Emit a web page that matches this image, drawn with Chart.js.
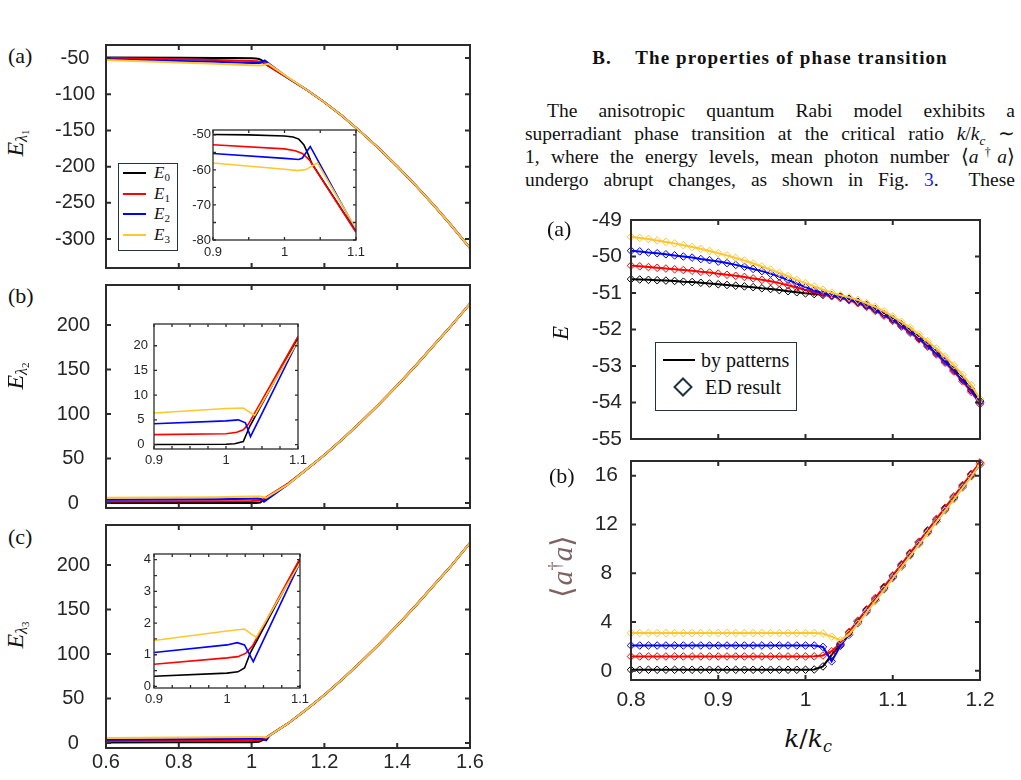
<!DOCTYPE html>
<html><head><meta charset="utf-8">
<script src="https://cdn.jsdelivr.net/npm/chart.js@4.4.1/dist/chart.umd.min.js"></script>
<style>
body{margin:0;background:#fff}
#wrap{position:relative;width:1021px;height:780px;overflow:hidden;background:#fff}
canvas{position:absolute}
.t{position:absolute;white-space:nowrap;font-family:'Liberation Serif','Times New Roman',serif;color:#111;line-height:1}
.rot{transform:translate(-50%,-50%) rotate(-90deg)}
.ctr{transform:translate(-50%,-50%)}
.para{position:absolute;left:525px;top:99px;width:490px;font-family:'Liberation Serif','Times New Roman',serif;font-size:19.5px;line-height:23px;color:#111}
.jl{text-align:justify;text-align-last:justify;white-space:normal;height:23px;overflow:visible}
.lg{position:absolute;background:#fff;border:1.5px solid #22343f;box-sizing:border-box}
.sw{position:absolute;height:2px}
</style></head><body><div id="wrap">
<div class="t" style="left:525px;top:48px;width:490px;text-align:center;font-weight:bold;font-size:19px;letter-spacing:1.1px;">B.&nbsp;&nbsp;&nbsp;&nbsp;The properties of phase transition</div>
<div class="para">
<div class="jl" style="text-indent:22px">The anisotropic quantum Rabi model exhibits a</div>
<div class="jl">superradiant phase transition at the critical ratio <i>k</i>/<i>k</i><sub style="font-size:13px;line-height:0"><i>c</i></sub> ∼</div>
<div class="jl">1, where the energy levels, mean photon number ⟨<i>a</i><span style="font-size:12px;vertical-align:7px;line-height:0">†</span><i>a</i>⟩</div>
<div class="jl">undergo abrupt changes, as shown in Fig. <span style="color:#2020e0">3</span>. &nbsp;These</div>
</div>
</div>
<script>
// ================= DATA =================
// left column, shared tails (x > 1.1)
const tailX = [1.15, 1.2, 1.25, 1.3, 1.35, 1.4, 1.45, 1.5, 1.55, 1.6];
const tailA = [-93.5, -111, -130.5, -152, -175, -199.5, -225.5, -253, -282, -312.5];
const tailB = [37.5, 54, 72, 91, 111, 132, 154, 177, 200, 224];
const tailC = [37.5, 54, 72, 91, 111, 132, 154, 177, 200, 225];

// panel (a) E_lambda1 (main + inset)
const a_E0_x = [0.6, 0.8, 0.9, 0.95, 1.0, 1.012, 1.02, 1.027, 1.033, 1.038, 1.1];
const a_E0_y = [-49.4, -49.7, -49.9, -50.0, -50.3, -50.6, -51.2, -52.8, -55.5, -58.1, -77.6];
const a_E1_x = [0.6, 0.8, 0.9, 1.0, 1.015, 1.025, 1.035, 1.1];
const a_E1_y = [-49.8, -51.8, -52.8, -54.0, -54.5, -55.3, -57.2, -77.8];
const a_E2_x = [0.6, 0.8, 0.9, 1.0, 1.02, 1.025, 1.036, 1.1];
const a_E2_y = [-51.8, -54.1, -55.3, -56.7, -57.0, -56.6, -53.3, -77.2];
const a_E3_x = [0.6, 0.8, 0.9, 1.0, 1.02, 1.03, 1.046, 1.1];
const a_E3_y = [-52.6, -56.2, -58.0, -59.8, -60.2, -59.9, -58.0, -76.8];

// panel (b) E_lambda2 (main + inset)
const b_E0_x = [0.6, 0.9, 1.0, 1.012, 1.024, 1.033, 1.1];
const b_E0_y = [0.0, 0.0, 0.05, 0.15, 0.6, 3.7, 21.5];
const b_E1_x = [0.6, 0.9, 1.0, 1.015, 1.024, 1.031, 1.1];
const b_E1_y = [1.7, 2.0, 2.2, 2.5, 3.0, 4.1, 21.9];
const b_E2_x = [0.6, 0.9, 1.0, 1.017, 1.027, 1.034, 1.1];
const b_E2_y = [3.8, 4.2, 4.8, 5.0, 4.4, 1.6, 21.0];
const b_E3_x = [0.6, 0.9, 1.0, 1.024, 1.04, 1.1];
const b_E3_y = [5.8, 6.4, 7.3, 7.4, 5.9, 21.0];

// panel (c) E_lambda3 main
const c_E0_x = [0.6, 0.8, 1.0, 1.02, 1.035, 1.045, 1.1];
const c_E0_y = [0.7, 0.8, 0.9, 1.3, 4.2, 7.5, 22];
const c_E1_x = [0.6, 1.0, 1.025, 1.04, 1.1];
const c_E1_y = [2.4, 3.0, 3.6, 6.2, 22];
const c_E2_x = [0.6, 1.0, 1.025, 1.04, 1.05, 1.1];
const c_E2_y = [3.8, 4.8, 4.9, 3.0, 8.6, 22];
const c_E3_x = [0.6, 1.0, 1.03, 1.04, 1.05, 1.1];
const c_E3_y = [5.6, 6.8, 6.9, 6.2, 8.6, 22];

// panel (c) inset
const ic_E0_x = [0.9, 1.0, 1.015, 1.024, 1.032, 1.1];
const ic_E0_y = [0.32, 0.42, 0.46, 0.58, 1.06, 4.0];
const ic_E1_x = [0.9, 1.0, 1.015, 1.026, 1.035, 1.1];
const ic_E1_y = [0.70, 0.90, 0.94, 1.05, 1.28, 4.04];
const ic_E2_x = [0.9, 1.0, 1.014, 1.024, 1.036, 1.1];
const ic_E2_y = [1.07, 1.31, 1.38, 1.31, 0.78, 3.91];
const ic_E3_x = [0.9, 1.0, 1.024, 1.04, 1.1];
const ic_E3_y = [1.45, 1.75, 1.81, 1.55, 3.91];

// right column k/k_c grid
const kx = [0.80,0.81,0.82,0.83,0.84,0.85,0.86,0.87,0.88,0.89,0.90,0.91,0.92,0.93,0.94,0.95,0.96,0.97,0.98,0.99,1.00,
            1.01,1.02,1.03,1.04,1.05,1.06,1.07,1.08,1.09,1.10,1.11,1.12,1.13,1.14,1.15,1.16,1.17,1.18,1.19,1.20];
// right (a) energies
const rE0 = [-50.62,-50.63,-50.64,-50.65,-50.66,-50.67,-50.69,-50.70,-50.72,-50.74,-50.76,-50.78,-50.80,-50.82,-50.84,-50.87,-50.89,-50.92,-50.95,-50.98,-51.01,
             -51.03,-51.05,-51.07,-51.10,-51.16,-51.24,-51.33,-51.44,-51.57,-51.71,-51.86,-52.03,-52.21,-52.41,-52.62,-52.85,-53.09,-53.35,-53.63,-53.96];
const rE1 = [-50.25,-50.27,-50.29,-50.31,-50.33,-50.35,-50.37,-50.39,-50.42,-50.44,-50.47,-50.50,-50.53,-50.56,-50.60,-50.64,-50.68,-50.73,-50.79,-50.85,-50.92,
             -50.98,-51.04,-51.09,-51.14,-51.20,-51.28,-51.38,-51.49,-51.62,-51.76,-51.92,-52.09,-52.27,-52.47,-52.68,-52.91,-53.15,-53.42,-53.71,-54.04];
const rE2 = [-49.84,-49.86,-49.89,-49.91,-49.94,-49.97,-50.00,-50.03,-50.07,-50.10,-50.14,-50.18,-50.23,-50.28,-50.34,-50.40,-50.47,-50.55,-50.64,-50.74,-50.84,
             -50.93,-51.00,-51.06,-51.11,-51.17,-51.25,-51.35,-51.46,-51.59,-51.73,-51.89,-52.06,-52.24,-52.44,-52.65,-52.88,-53.12,-53.38,-53.67,-54.00];
const rE3 = [-49.46,-49.49,-49.52,-49.56,-49.60,-49.64,-49.69,-49.74,-49.79,-49.85,-49.91,-49.97,-50.04,-50.11,-50.19,-50.27,-50.36,-50.45,-50.54,-50.64,-50.73,
             -50.82,-50.91,-50.99,-51.06,-51.12,-51.19,-51.28,-51.38,-51.50,-51.64,-51.79,-51.95,-52.13,-52.32,-52.52,-52.74,-52.98,-53.24,-53.52,-53.90];
// right (b) photon numbers
const rN0 = [0.08,0.08,0.08,0.08,0.08,0.08,0.08,0.08,0.08,0.08,0.08,0.08,0.08,0.08,0.08,0.08,0.08,0.08,0.08,0.08,0.08,
             0.10,0.35,1.30,2.15,3.10,4.03,4.96,5.88,6.81,7.74,8.66,9.59,10.52,11.44,12.37,13.30,14.22,15.15,16.08,17.00];
const rN1 = [1.17,1.17,1.17,1.17,1.17,1.17,1.17,1.17,1.17,1.17,1.17,1.17,1.17,1.17,1.17,1.17,1.17,1.17,1.17,1.17,1.17,
             1.18,1.25,1.60,2.25,3.18,4.11,5.03,5.96,6.89,7.81,8.74,9.67,10.59,11.52,12.45,13.37,14.30,15.23,16.15,17.08];
const rN2 = [2.07,2.07,2.07,2.07,2.07,2.07,2.07,2.07,2.07,2.07,2.07,2.07,2.07,2.07,2.07,2.07,2.07,2.07,2.07,2.07,2.07,
             2.07,1.95,0.77,2.05,2.95,3.90,4.83,5.76,6.69,7.62,8.54,9.47,10.40,11.32,12.25,13.18,14.10,15.03,15.96,16.90];
const rN3 = [3.09,3.09,3.09,3.09,3.09,3.09,3.09,3.09,3.09,3.09,3.09,3.09,3.09,3.09,3.09,3.09,3.09,3.09,3.09,3.09,3.09,
             3.09,3.05,2.80,2.50,3.00,3.85,4.78,5.71,6.64,7.57,8.50,9.42,10.35,11.28,12.20,13.13,14.06,14.99,15.92,16.95];

// tick values / labels
const leftX = [0.6, 0.8, 1, 1.2, 1.4, 1.6];
const leftXLab = ['0.6', '0.8', '1', '1.2', '1.4', '1.6'];
const aY = [-300, -250, -200, -150, -100, -50];
const aYLab = ['-300', '-250', '-200', '-150', '-100', '-50'];
const bcY = [0, 50, 100, 150, 200];
const bcYLab = ['0', '50', '100', '150', '200'];
const iaX = [0.9, 0.95, 1, 1.05, 1.1];
const iaXLab = ['0.9', '', '1', '', '1.1'];
const iaY = [-80, -75, -70, -65, -60, -55, -50];
const iaYLab = ['-80', '', '-70', '', '-60', '', '-50'];
const ibcX = [0.9, 0.925, 0.95, 0.975, 1, 1.025, 1.05, 1.075, 1.1];
const ibcXLab = ['0.9', '', '', '', '1', '', '', '', '1.1'];
const ibY = [0, 5, 10, 15, 20];
const ibYLab = ['0', '5', '10', '15', '20'];
const icY = [0, 0.5, 1, 1.5, 2, 2.5, 3, 3.5, 4];
const icYLab = ['0', '', '1', '', '2', '', '3', '', '4'];
const rX = [0.8, 0.9, 1, 1.1, 1.2];
const rXLab = ['0.8', '0.9', '1', '1.1', '1.2'];
const raY = [-55, -54, -53, -52, -51, -50, -49];
const raYLab = ['-55', '-54', '-53', '-52', '-51', '-50', '-49'];
const rbY = [0, 4, 8, 12, 16];
const rbYLab = ['0', '4', '8', '12', '16'];

const COL = ['#000000', '#ff0000', '#0000ff', '#ffc630'];
const SANS = "'Liberation Sans', Arial, sans-serif";

// ================= HELPERS =================
const pts = (xs, ys) => xs.map((x, i) => ({x: x, y: ys[i]}));
const wrap = document.getElementById('wrap');

const mbox = {
  id: 'mbox',
  beforeDraw(ch, a, o) {
    if (!o.fill) return;
    const {ctx, chartArea: c} = ch;
    ctx.save(); ctx.fillStyle = '#fff';
    ctx.fillRect(c.left, c.top, c.right - c.left, c.bottom - c.top);
    ctx.restore();
  },
  afterDraw(ch, a, o) {
    const {ctx, chartArea: c, scales: {x, y}} = ch;
    ctx.save(); ctx.strokeStyle = '#2b2b2b'; ctx.lineWidth = o.lw;
    ctx.beginPath();
    x.ticks.forEach(t => { const p = x.getPixelForValue(t.value);
      ctx.moveTo(p, c.bottom); ctx.lineTo(p, c.bottom - o.len);
      ctx.moveTo(p, c.top); ctx.lineTo(p, c.top + o.len); });
    y.ticks.forEach(t => { const p = y.getPixelForValue(t.value);
      ctx.moveTo(c.left, p); ctx.lineTo(c.left + o.len, p);
      ctx.moveTo(c.right, p); ctx.lineTo(c.right - o.len, p); });
    ctx.stroke();
    ctx.strokeRect(c.left, c.top, c.right - c.left, c.bottom - c.top);
    ctx.restore();
  }
};

function axis(ax) {
  return {
    type: 'linear', min: ax.min, max: ax.max, bounds: 'data',
    afterBuildTicks: s => { s.ticks = ax.ticks.map(v => ({value: v})); },
    ticks: { autoSkip: false, maxRotation: 0, minRotation: 0, padding: ax.pad,
      crossAlign: ax.align || 'near', color: '#262626',
      font: {size: ax.fs, family: SANS},
      callback: (v, i) => ax.labels ? ax.labels[i] : '' },
    grid: {display: false, drawTicks: false}, border: {display: false}
  };
}

function mk(p, ds, o) {
  const W = p.wy + (p.r - p.l) + p.pr, H = p.pt + (p.b - p.t) + p.hx;
  const c = document.createElement('canvas');
  c.width = W; c.height = H;
  c.style.left = (p.l - p.wy) + 'px'; c.style.top = (p.t - p.pt) + 'px';
  c.style.width = W + 'px'; c.style.height = H + 'px';
  wrap.appendChild(c);
  const xs = axis(o.x);
  xs.afterFit = s => { s.height = p.hx; s.paddingLeft = 0; s.paddingRight = 0; s.paddingTop = 0; s.paddingBottom = 0; };
  const ys = axis(o.y);
  ys.afterFit = s => { s.width = p.wy; s.paddingTop = 0; s.paddingBottom = 0; s.paddingLeft = 0; s.paddingRight = 0; };
  return new Chart(c, {
    type: 'line', data: {datasets: ds},
    options: {
      responsive: false, animation: false, devicePixelRatio: 1, events: [],
      layout: {padding: {top: p.pt, right: p.pr, left: 0, bottom: 0}},
      plugins: {legend: {display: false}, tooltip: {enabled: false},
        mbox: {len: o.len, lw: o.lw, fill: o.fill}},
      scales: {x: xs, y: ys}
    },
    plugins: [mbox]
  });
}

function lines(sets, bw) {
  return sets.map((s, i) => ({
    data: pts(s[0], s[1]), borderColor: COL[i], borderWidth: bw,
    pointRadius: 0, tension: 0, fill: false, order: 3 - i
  }));
}
function markLines(ys, bw) {
  return ys.map((s, i) => ({
    data: pts(kx, s), borderColor: COL[i], borderWidth: bw, tension: 0, fill: false,
    pointStyle: 'rectRot', pointRadius: 3.8, pointBorderWidth: 1,
    pointBorderColor: COL[i], pointBackgroundColor: 'rgba(0,0,0,0)', order: 3 - i, clip: 6
  }));
}

// ================= CHARTS =================
const A = [[a_E0_x, a_E0_y], [a_E1_x, a_E1_y], [a_E2_x, a_E2_y], [a_E3_x, a_E3_y]];
const B = [[b_E0_x, b_E0_y], [b_E1_x, b_E1_y], [b_E2_x, b_E2_y], [b_E3_x, b_E3_y]];
const C = [[c_E0_x, c_E0_y], [c_E1_x, c_E1_y], [c_E2_x, c_E2_y], [c_E3_x, c_E3_y]];
const IC = [[ic_E0_x, ic_E0_y], [ic_E1_x, ic_E1_y], [ic_E2_x, ic_E2_y], [ic_E3_x, ic_E3_y]];
const withTail = (S, tail) => S.map(s => [s[0].concat(tailX), s[1].concat(tail)]);

// left main panels
mk({l:106, t:45, r:470, b:268, wy:60, pt:14, pr:24, hx:8}, lines(withTail(A, tailA), 2),
  {x:{min:0.6, max:1.6, ticks:leftX, pad:0, fs:20}, y:{min:-340, max:-32, ticks:aY, labels:aYLab, pad:11, fs:20, align:'center'}, len:5, lw:2});
mk({l:106, t:285, r:470, b:508, wy:60, pt:14, pr:24, hx:8}, lines(withTail(B, tailB), 2),
  {x:{min:0.6, max:1.6, ticks:leftX, pad:0, fs:20}, y:{min:-5.6, max:245, ticks:bcY, labels:bcYLab, pad:16, fs:20, align:'center'}, len:5, lw:2});
mk({l:106, t:525, r:470, b:748, wy:60, pt:14, pr:24, hx:30}, lines(withTail(C, tailC), 2),
  {x:{min:0.6, max:1.6, ticks:leftX, labels:leftXLab, pad:2, fs:20}, y:{min:-5.6, max:245, ticks:bcY, labels:bcYLab, pad:16, fs:20, align:'center'}, len:5, lw:2});

// insets
mk({l:213, t:130, r:356, b:240, wy:30, pt:8, pr:12, hx:22}, lines(A, 1.6),
  {x:{min:0.9, max:1.1, ticks:iaX, labels:iaXLab, pad:5, fs:13}, y:{min:-80, max:-48.6, ticks:iaY, labels:iaYLab, pad:2, fs:13}, len:3, lw:1.3, fill:true});
mk({l:154, t:324, r:298, b:449, wy:30, pt:8, pr:12, hx:22}, lines(B, 1.6),
  {x:{min:0.9, max:1.1, ticks:ibcX, labels:ibcXLab, pad:4, fs:13}, y:{min:-0.9, max:24.4, ticks:ibY, labels:ibYLab, pad:6, fs:13, align:'center'}, len:3, lw:1.3, fill:true});
mk({l:154, t:554, r:300, b:688, wy:24, pt:8, pr:12, hx:22}, lines(IC, 1.6),
  {x:{min:0.9, max:1.1, ticks:ibcX, labels:ibcXLab, pad:4, fs:13}, y:{min:-0.05, max:4.18, ticks:icY, labels:icYLab, pad:3, fs:13}, len:3, lw:1.3, fill:true});

// right panels
mk({l:631, t:220, r:980, b:439, wy:60, pt:14, pr:20, hx:8}, markLines([rE0, rE1, rE2, rE3], 2),
  {x:{min:0.8, max:1.2, ticks:rX, pad:0, fs:21}, y:{min:-55, max:-49, ticks:raY, labels:raYLab, pad:9, fs:21}, len:5, lw:2});
mk({l:631, t:461, r:980, b:680, wy:60, pt:14, pr:24, hx:34}, markLines([rN0, rN1, rN2, rN3], 2),
  {x:{min:0.8, max:1.2, ticks:rX, labels:rXLab, pad:8, fs:21}, y:{min:-0.76, max:17.2, ticks:rbY, labels:rbYLab, pad:13, fs:21, align:'center'}, len:5, lw:2});

// ================= OVERLAY TEXT / LEGENDS =================
function add(html) { wrap.insertAdjacentHTML('beforeend', html); }
// panel letters
add('<div class="t" style="left:8px;top:45px;font-size:22px">(a)</div>');
add('<div class="t" style="left:8px;top:285px;font-size:22px">(b)</div>');
add('<div class="t" style="left:8px;top:526px;font-size:22px">(c)</div>');
add('<div class="t" style="left:547px;top:218px;font-size:22px">(a)</div>');
add('<div class="t" style="left:549px;top:465px;font-size:22px">(b)</div>');
// y labels left
const eLab = n => '<i>E</i><sub style="font-size:16px;vertical-align:-4px"><i>λ</i><sub style="font-size:11px;vertical-align:-2px">' + n + '</sub></sub>';
add('<div class="t rot" style="left:17px;top:143px;font-size:24px">' + eLab(1) + '</div>');
add('<div class="t rot" style="left:17px;top:376px;font-size:24px">' + eLab(2) + '</div>');
add('<div class="t rot" style="left:17px;top:635px;font-size:24px">' + eLab(3) + '</div>');
// right labels
add('<div class="t rot" style="left:560px;top:333px;font-size:23px"><i>E</i></div>');
add('<div class="t rot" style="left:561px;top:566px;font-size:30px;color:#7d6262">⟨<i>a</i><sup style="font-size:18px">†</sup><i>a</i>⟩</div>');
add('<div class="t ctr" style="left:808px;top:740px;font-family:\'DejaVu Serif\',serif;font-size:25px"><i>k</i>/<i>k</i><sub style="font-size:16px;vertical-align:-5px"><i>c</i></sub></div>');

// legend left (a)
add('<div class="lg" style="left:118px;top:163px;width:60px;height:88px"></div>');
const LE = ['0', '1', '2', '3'];
[173, 194, 214, 235].forEach((y, i) => {
  add('<div class="sw" style="left:123px;top:' + (y - 1) + 'px;width:23px;background:' + COL[i] + '"></div>');
  add('<div class="t" style="left:154px;top:' + (y - 9) + 'px;font-size:17px"><i>E</i><sub style="font-size:11px;vertical-align:-3px">' + LE[i] + '</sub></div>');
});
// legend right (a)
add('<div class="lg" style="left:655px;top:342px;width:142px;height:69px"></div>');
add('<div class="sw" style="left:663px;top:359px;width:32px;background:#000"></div>');
add('<div class="t" style="left:701px;top:350px;font-size:20px">by patterns</div>');
add('<div style="position:absolute;left:676px;top:380px;width:10px;height:10px;border:2px solid #1d3340;transform:rotate(45deg)"></div>');
add('<div class="t" style="left:705px;top:377px;font-size:20px">ED result</div>');
</script>
</body></html>
